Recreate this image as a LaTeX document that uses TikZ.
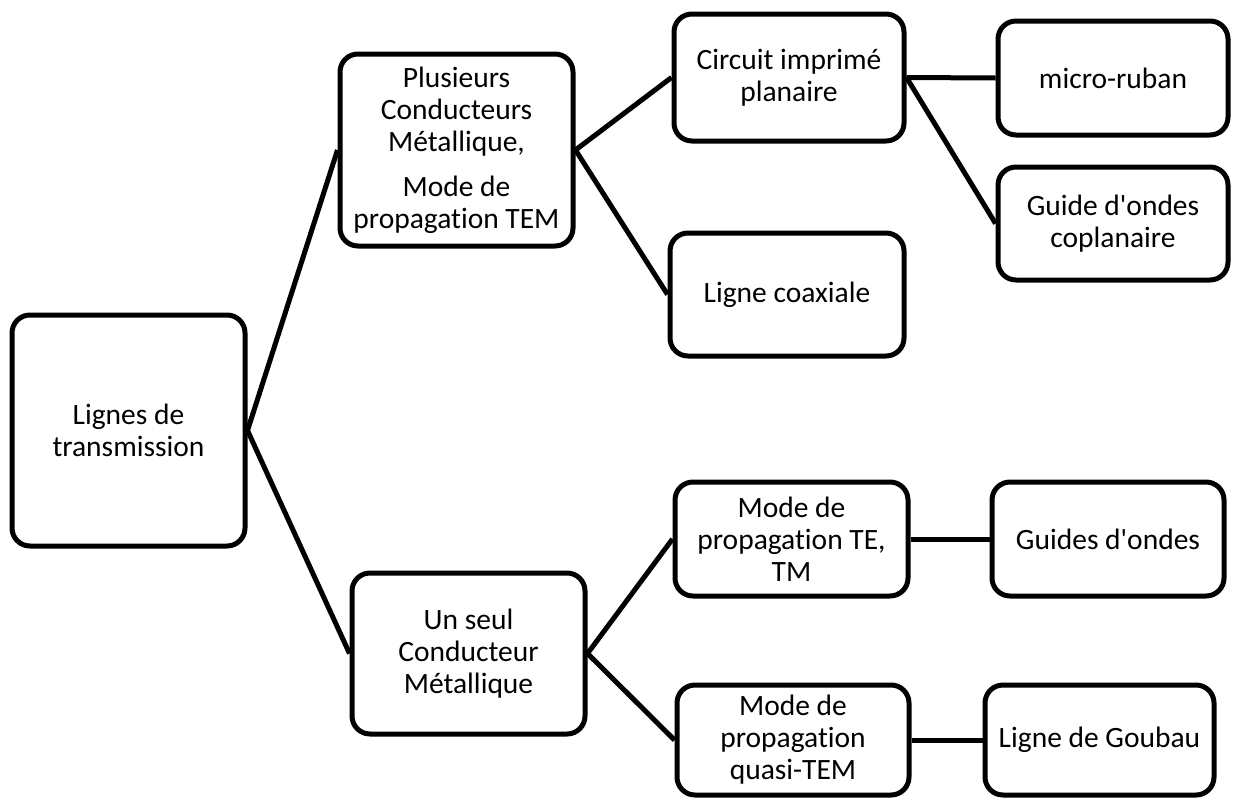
\documentclass[tikz,border=0pt]{standalone}
\usepackage{fontspec}
\setmainfont{Carlito}[Ligatures={NoCommon}]
\begin{document}
\begin{tikzpicture}[x=1pt,y=-1pt,
  box/.style={draw=black, line width=5pt, rounded corners=18pt, align=center,
    inner sep=0pt, fill=white, font=\fontsize{29.5}{32}\selectfont},
  link/.style={draw=black, line width=5pt}]
\useasboundingbox[fill=white] (0,0) rectangle (1233,798);
% nodes
\node[box, minimum width=233pt, minimum height=231pt] (lt) at (128.5,430.5) {Lignes de\\transmission};
\node[box, minimum width=233pt, minimum height=192pt] (pc) at (456.5,150) {Plusieurs\\Conducteurs\\Métallique,\\[13pt]Mode de\\propagation TEM};
\node[box, minimum width=230pt, minimum height=127pt] (ci) at (789,77.5) {Circuit imprimé\\planaire};
\node[box, minimum width=230pt, minimum height=114pt] (mr) at (1113,78) {micro-ruban};
\node[box, minimum width=230pt, minimum height=113pt] (gc) at (1113,223.5) {Guide d\textquotesingle ondes\\coplanaire};
\node[box, minimum width=234pt, minimum height=123pt] (lc) at (787,294.5) {Ligne coaxiale};
\node[box, minimum width=233pt, minimum height=161pt] (us) at (468.5,653.5) {Un seul\\Conducteur\\Métallique};
\node[box, minimum width=233pt, minimum height=114pt] (te) at (791.5,539) {Mode de\\propagation TE,\\TM};
\node[box, minimum width=232pt, minimum height=114pt] (go) at (1108,539) {Guides d\textquotesingle ondes};
\node[box, minimum width=232pt, minimum height=110pt] (qt) at (793,740) {Mode de\\propagation\\quasi-TEM};
\node[box, minimum width=229pt, minimum height=110pt] (lg) at (1099.5,740) {Ligne de Goubau};
% connectors
\draw[link] (lt.east) -- (pc.west);
\draw[link] (lt.east) -- (us.west);
\draw[link] (pc.east) -- (ci.west);
\draw[link] (pc.east) -- (lc.west);
\draw[link] (ci.east) -- (mr.west);
\draw[link] (ci.east) -- (gc.west);
\draw[link] (us.east) -- (te.west);
\draw[link] (us.east) -- (qt.west);
\draw[link] (te.east) -- (go.west);
\draw[link] (qt.east) -- (lg.west);
\end{tikzpicture}
\end{document}
